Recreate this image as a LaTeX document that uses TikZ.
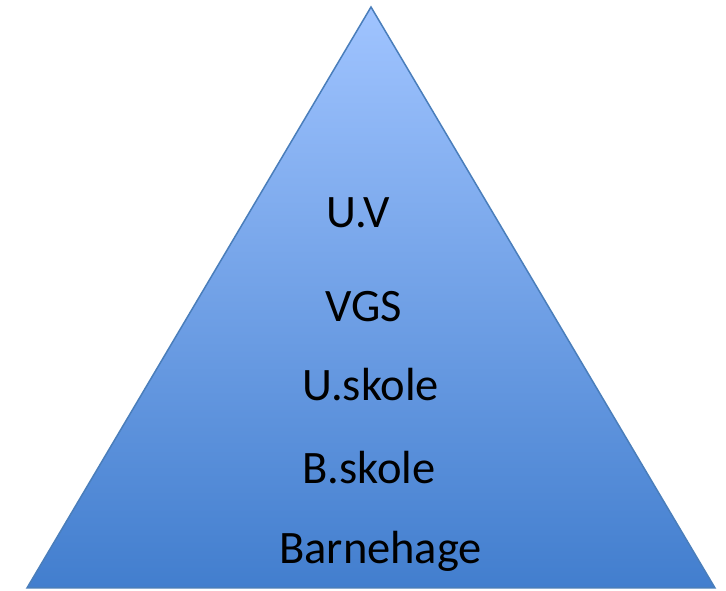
\documentclass[tikz,border=0pt]{standalone}
\usepackage{fontspec}
\setmainfont{Carlito}
\definecolor{toptri}{RGB}{160,196,255}
\definecolor{bottri}{RGB}{66,126,206}
\definecolor{edgetri}{RGB}{74,126,187}
\tikzset{
  lvl/.style={anchor=base west, inner sep=0pt, font=\fontsize{46.5}{55}\selectfont, text=black}
}
\begin{document}
\begin{tikzpicture}[x=1pt,y=1pt]
\useasboundingbox (0,0) rectangle (726,591);
\coordinate (apex) at (371,584);
\coordinate (bl) at (27,3);
\coordinate (br) at (715,3);
\shade[top color=toptri, bottom color=bottri, draw=edgetri, line width=1.5pt, line join=miter] (apex) -- (br) -- (bl) -- cycle;
\node[lvl] (uv) at (326,363) {U.V};
\node[lvl] (vgs) at (325,269) {VGS};
\node[lvl] (usk) at (302,190) {U.skole};
\node[lvl] (bsk) at (302,107) {B.skole};
\node[lvl] (bhg) at (279,27) {Barnehage};
\end{tikzpicture}
\end{document}
